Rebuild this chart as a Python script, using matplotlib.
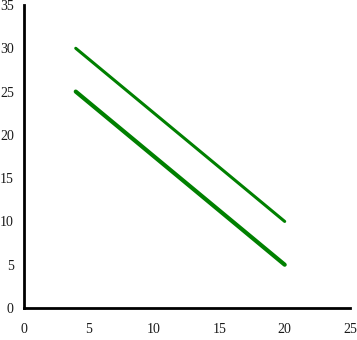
import matplotlib
matplotlib.use("Agg")
import matplotlib.pyplot as plt

x_a = [4, 20]
y_a = [30, 10]
x_b = [4, 20]
y_b = [25, 5]
x_ticks = [0, 5, 10, 15, 20, 25]
y_ticks = [0, 5, 10, 15, 20, 25, 30, 35]

plt.rcParams['font.family'] = ['Liberation Serif', 'DejaVu Serif']

fig = plt.figure(figsize=(3.57, 3.40), dpi=100)
ax = fig.add_axes([23.5/357, 32/340, (350-23.5)/357, (308-5)/340])
ax.plot(x_a, y_a, color='green', lw=2.2, solid_capstyle='round')
ax.plot(x_b, y_b, color='green', lw=3.0, solid_capstyle='round')
ax.set_xlim(0, 25)
ax.set_ylim(0, 35)
ax.set_xticks(x_ticks)
ax.set_yticks(y_ticks)
ax.tick_params(length=0, labelsize=10, colors='#1a1a1a')
ax.tick_params(axis='x', pad=11)
ax.tick_params(axis='y', pad=7)
for s in ['top', 'right']:
    ax.spines[s].set_visible(False)
for s in ['left', 'bottom']:
    ax.spines[s].set_linewidth(2.0)
fig.savefig('out.png', dpi=100)
